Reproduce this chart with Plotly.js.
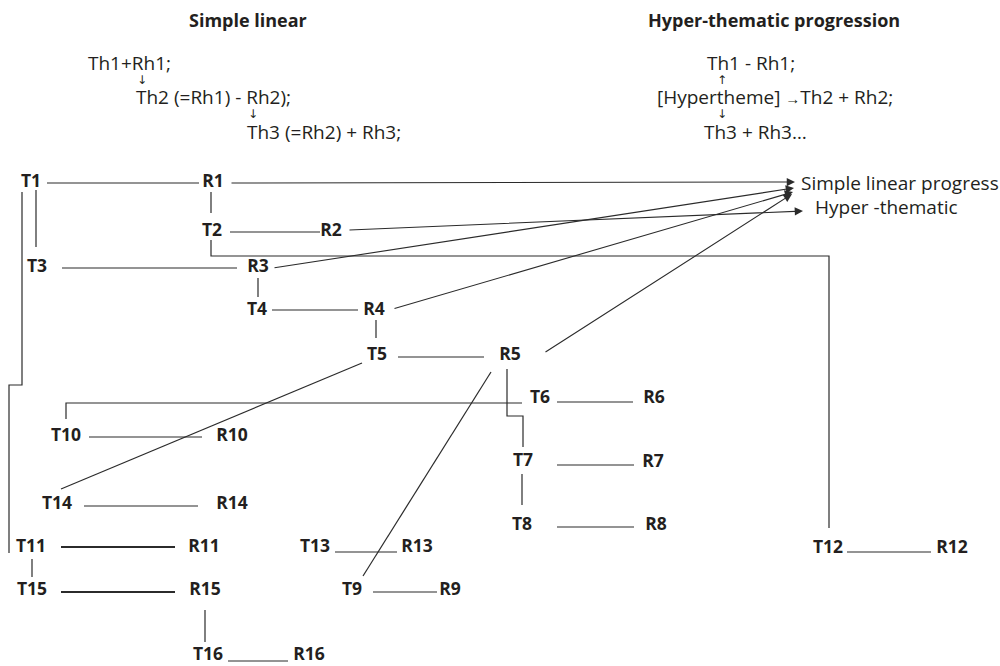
<!DOCTYPE html>
<html>
<head>
<meta charset="utf-8">
<script src="https://cdn.plot.ly/plotly-3.0.1.min.js"></script>
<style>html,body{margin:0;padding:0;background:#fff;}#chart{width:1000px;height:666px;}</style>
</head>
<body>
<div id="chart"></div>
<script>
// ---- Node labels (diagram data) ----
const nodeLabels = ['T1','R1','T2','R2','T3','R3','T4','R4','T5','R5','T6','R6','T7','R7','T8','R8',
                    'T9','R9','T10','R10','T11','R11','T12','R12','T13','R13','T14','R14','T15','R15','T16','R16'];
const nodeX = [31,213,212,331,37,258,257,374,377,510,540,654,523,653,522,656,
               352,450,66,232,31,204,828,952,315,417,57,232,32,205,208,309];
const nodeY = [183,183,232,232,268,268,311,311,356,356,399,399,462,463,526,526,
               591,591,437,437,548,548,549,549,548,548,505,505,591,591,656,656];

// ---- Connectors (polylines between nodes) ----
const connectors = [
  {x:[47,199], y:[183,183]},                 // T1-R1
  {x:[211,211], y:[192,213]},                // R1-T2
  {x:[36,36], y:[190,247]},                  // T1-T3
  {x:[22,22,9,9], y:[192,385,385,553]},      // T1-T11
  {x:[230,320], y:[232,232]},                // T2-R2
  {x:[211,211,829,829], y:[240,256,256,528]},// T2-T12
  {x:[62,237], y:[268,268]},                 // T3-R3
  {x:[258,258], y:[278,297]},                // R3-T4
  {x:[272,358], y:[310,310]},                // T4-R4
  {x:[376,376], y:[320,338]},                // R4-T5
  {x:[398,484], y:[357,357]},                // T5-R5
  {x:[362,61], y:[363,489]},                 // T5-T14
  {x:[491,363], y:[372,576]},                // R5-T9
  {x:[66,66,522], y:[419,403,403]},          // T10-R5
  {x:[507,507,523,523], y:[369,416,416,447]},// R5-T7
  {x:[557,633], y:[402,402]},                // T6-R6
  {x:[89,202], y:[437,437]},                 // T10-R10
  {x:[557,634], y:[465,465]},                // T7-R7
  {x:[522,522], y:[474,505]},                // T7-T8
  {x:[557,634], y:[527,527]},                // T8-R8
  {x:[847,931], y:[552,552]},                // T12-R12
  {x:[84,198], y:[506,506]},                 // T14-R14
  {x:[61,175], y:[547,547], w:2},            // T11-R11
  {x:[32,32], y:[559,577]},                  // T11-T15
  {x:[61,175], y:[592,592], w:2},            // T15-R15
  {x:[205,205], y:[610,642]},                // R15-T16
  {x:[228,288], y:[661,661]},                // T16-R16
  {x:[335,397], y:[552,552]},                // T13-R13
  {x:[373,437], y:[592,592]}                 // T9-R9
];

// ---- Arrows to the progress labels ----
const arrowFromX = [230,348,273,393,544];
const arrowFromY = [183,230,268,309,353];
const arrowToX   = [795,803,794,793,792];
const arrowToY   = [182,211,188,192,194];

const lineColor = '#2b2b2b';
const textColor = '#231f20';
const FONT = 'Open Sans, Noto Sans, sans-serif';
const ARW = {family:'DejaVu Sans', size:12, color:textColor};

const traces = connectors.map(c => ({
  type:'scatter', mode:'lines', x:c.x, y:c.y, hoverinfo:'skip',
  line:{color:lineColor, width:c.w || 1.2}
}));
traces.push({
  type:'scatter', mode:'text', x:nodeX, y:nodeY, text:nodeLabels,
  textposition:'middle center', hoverinfo:'skip',
  textfont:{family:FONT, size:17.5, color:textColor, weight:'bold'}
});

const annotations = [];
for (let i = 0; i < arrowFromX.length; i++) {
  annotations.push({
    x: arrowToX[i], y: arrowToY[i], xref:'x', yref:'y',
    ax: arrowFromX[i], ay: arrowFromY[i], axref:'x', ayref:'y',
    text:'', showarrow:true, arrowhead:2, arrowsize:1.5, arrowwidth:1.1, arrowcolor:lineColor,
    standoff:0, startstandoff:0
  });
}
function txt(t, x, y, opts) {
  annotations.push(Object.assign({
    text:t, x:x, y:y, xref:'x', yref:'y', showarrow:false,
    xanchor:'left', yanchor:'middle', borderpad:0,
    font:{family:FONT, size:19, color:textColor}
  }, opts || {}));
}
// Titles
txt('<b>Simple linear</b>', 248, 20, {xanchor:'center', font:{family:FONT, size:18, color:textColor}});
txt('<b>Hyper-thematic progression</b>', 774, 20, {xanchor:'center', font:{family:FONT, size:18, color:textColor}});
// Simple linear formula
txt('Th1+Rh1;', 87, 63);
txt('↓', 142, 80, {xanchor:'center', font:ARW});
txt('Th2 (=Rh1) - Rh2);', 135, 97);
txt('↓', 253, 114, {xanchor:'center', font:ARW});
txt('Th3 (=Rh2) + Rh3;', 246, 132);
// Hyper-thematic formula
txt('Th1 - Rh1;', 706, 63);
txt('↑', 722, 80, {xanchor:'center', font:ARW});
txt('[Hypertheme] <span style="font-size:15px">→</span>Th2 + Rh2;', 656, 97);
txt('↓', 722, 114, {xanchor:'center', font:ARW});
txt('Th3 + Rh3…', 703, 132);
// Progress labels
txt('Simple linear progress', 800, 183);
txt('Hyper -thematic', 814, 207);

const layout = {
  width:1000, height:666, margin:{l:0,r:0,t:0,b:0},
  paper_bgcolor:'#fff', plot_bgcolor:'#fff', showlegend:false,
  xaxis:{range:[0,1000], visible:false, fixedrange:true},
  yaxis:{range:[666,0], visible:false, fixedrange:true},
  annotations:annotations
};
Plotly.newPlot('chart', traces, layout, {displayModeBar:false, staticPlot:true});
</script>
</body>
</html>
